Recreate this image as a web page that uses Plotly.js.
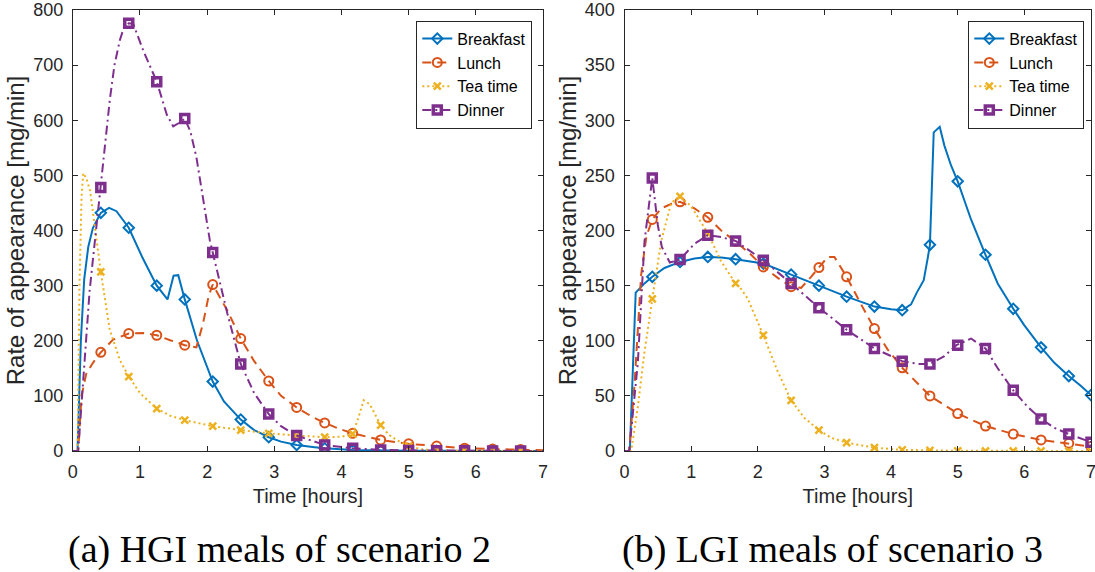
<!DOCTYPE html>
<html><head><meta charset="utf-8">
<script src="https://cdn.plot.ly/plotly-3.0.1.min.js"></script>
<style>html,body{margin:0;padding:0;background:#fff}#chart{width:1095px;height:572px}</style>
</head><body><div id="chart"></div>
<script>
// ---------- DATA ----------
const seriesNames = ['Breakfast', 'Lunch', 'Tea time', 'Dinner'];
const xTicks = [0, 1, 2, 3, 4, 5, 6, 7];
const captionA = '(a) HGI meals of scenario 2';
const captionB = '(b) LGI meals of scenario 3';

const markerTimesA = [0.417, 0.833, 1.25, 1.667, 2.083, 2.5, 2.917, 3.333, 3.75, 4.167, 4.583, 5.0, 5.417, 5.833, 6.25, 6.667];
const markerTimesB = [0.417, 0.833, 1.25, 1.667, 2.083, 2.5, 2.917, 3.333, 3.75, 4.167, 4.583, 5.0, 5.417, 5.833, 6.25, 6.667, 7.0];

// (a) HGI, scenario 2
const hgiBreakfastT = [0, 0.07, 0.12, 0.17, 0.23, 0.3, 0.417, 0.54, 0.65, 0.833, 1.04, 1.25, 1.41, 1.5, 1.57, 1.667, 1.85, 2.083, 2.25, 2.5, 2.7, 2.917, 3.1, 3.333, 3.6, 3.75, 4.167, 4.583, 5, 5.5, 6, 6.5, 7];
const hgiBreakfastV = [0, 0, 200, 312, 370, 405, 432, 441, 435, 405, 350, 300, 275, 318, 319, 275, 200, 126, 90, 57, 38, 25, 17, 11, 7, 5, 2, 1, 0.5, 0.3, 0.2, 0.1, 0];
const hgiBreakfastM = [432, 405, 300, 275, 126, 57, 25, 11, 5, 2, 1, 0.5, 0.3, 0.2, 0.1, 0.1];

const hgiLunchT = [0, 0.08, 0.13, 0.2, 0.3, 0.417, 0.6, 0.833, 1.05, 1.25, 1.45, 1.667, 1.84, 1.94, 2.02, 2.083, 2.3, 2.5, 2.7, 2.917, 3.1, 3.333, 3.55, 3.75, 3.95, 4.167, 4.583, 5, 5.417, 5.833, 6.25, 6.667, 7];
const hgiLunchV = [0, 0, 100, 140, 160, 179, 202, 213, 214, 210, 201, 192, 188, 232, 280, 302, 255, 204, 163, 127, 100, 79, 63, 51, 41, 32, 20, 13, 9, 5, 3.5, 2.5, 1.5];
const hgiLunchM = [179, 213, 210, 192, 302, 204, 127, 79, 51, 32, 20, 13, 9, 5, 3.5, 2.5];

const hgiTeaT = [0, 0.07, 0.1, 0.13, 0.156, 0.2, 0.256, 0.33, 0.417, 0.55, 0.7, 0.833, 1.0, 1.25, 1.45, 1.667, 2.083, 2.5, 2.917, 3.333, 3.75, 4.0, 4.167, 4.25, 4.33, 4.42, 4.583, 4.7, 4.82, 5.0, 5.2, 5.417, 6, 7];
const hgiTeaV = [0, 0, 300, 460, 504, 495, 473, 400, 325, 220, 165, 135, 105, 77, 64, 56, 45, 38, 32, 28, 25, 26, 31, 60, 92, 85, 47, 30, 20, 9, 3, 1, 0, 0];
const hgiTeaM = [325, 135, 77, 56, 45, 38, 32, 28, 25, 31, 47, 9, 1, 0, 0, 0];

const hgiDinnerT = [0, 0.08, 0.25, 0.417, 0.55, 0.62, 0.7, 0.76, 0.833, 0.9, 1.05, 1.25, 1.4, 1.495, 1.58, 1.667, 1.75, 1.84, 1.95, 2.04, 2.083, 2.3, 2.5, 2.7, 2.917, 3.1, 3.333, 3.75, 4.167, 4.583, 5, 5.5, 6, 7];
const hgiDinnerV = [0, 0, 290, 478, 636, 700, 745, 768, 776, 775, 726, 670, 610, 589, 595, 603, 580, 533, 450, 382, 360, 250, 158, 105, 67, 45, 28, 11, 5, 2, 1, 0.5, 0.2, 0];
const hgiDinnerM = [478, 776, 670, 603, 360, 158, 67, 28, 11, 5, 2, 1, 0.5, 0.3, 0.2, 0.1];

// (b) LGI, scenario 3
const lgiBreakfastT = [0, 0.08, 0.168, 0.3, 0.417, 0.6, 0.833, 1.05, 1.25, 1.45, 1.667, 2.083, 2.5, 2.917, 3.333, 3.75, 4.0, 4.167, 4.3, 4.38, 4.49, 4.55, 4.583, 4.64, 4.73, 4.8, 4.9, 5.0, 5.2, 5.417, 5.6, 5.833, 6.0, 6.25, 6.45, 6.667, 6.85, 7];
const lgiBreakfastV = [0, 0, 143.7, 152, 158, 166, 171.5, 174.5, 176, 175.5, 174, 170, 160, 150, 140, 131, 128.5, 127.7, 133, 143, 155, 175, 187, 289, 294, 277, 259, 244.6, 210, 178, 152, 129, 114, 94, 80, 68, 59, 50.7];
const lgiBreakfastM = [158, 171.5, 176, 174, 170, 160, 150, 140, 131, 127.7, 187, 244.6, 178, 129, 94, 68, 50.7];

const lgiLunchT = [0, 0.07, 0.15, 0.25, 0.33, 0.417, 0.55, 0.7, 0.833, 1.05, 1.25, 1.45, 1.667, 1.9, 2.083, 2.3, 2.5, 2.65, 2.8, 2.917, 3.05, 3.15, 3.333, 3.55, 3.75, 3.95, 4.167, 4.583, 5, 5.417, 5.833, 6.25, 6.667, 7];
const lgiLunchV = [0, 0, 60, 160, 195, 210, 220, 224, 226, 220, 212, 200, 190, 178, 167, 157, 149, 148, 158, 166.4, 176, 176, 158, 133, 111, 92, 75.5, 50, 34, 22.6, 15.4, 10, 7, 4];
const lgiLunchM = [210, 226, 212, 190, 167, 149, 166.4, 158, 111, 75.5, 50, 34, 22.6, 15.4, 10, 7, 4];

const lgiTeaT = [0, 0.1, 0.2, 0.3, 0.417, 0.55, 0.7, 0.833, 1.0, 1.1, 1.25, 1.45, 1.667, 1.75, 1.85, 2.083, 2.3, 2.5, 2.7, 2.917, 3.1, 3.333, 3.75, 4.167, 4.583, 5, 7];
const lgiTeaV = [0, 0, 40, 90, 138, 190, 225, 231, 222, 212, 197.5, 172, 152, 147, 138, 105, 72, 46, 30, 19, 12, 7.5, 3, 1, 0.5, 0.2, 0];
const lgiTeaM = [138, 231, 197.5, 152, 105, 46, 19, 7.5, 3, 1, 0.5, 0.2, 0, 0, 0, 0, 0];

const lgiDinnerT = [0, 0.07, 0.2, 0.3, 0.417, 0.5, 0.56, 0.68, 0.833, 1.05, 1.25, 1.45, 1.667, 2.083, 2.5, 2.917, 3.333, 3.75, 4.167, 4.4, 4.583, 4.8, 4.98, 5.2, 5.417, 5.6, 5.833, 6.05, 6.25, 6.45, 6.667, 7];
const lgiDinnerV = [0, 0, 80, 190, 247.6, 205, 185, 171, 173.6, 188, 195.7, 194, 190.5, 173, 152, 130, 110, 93, 81.5, 79, 79, 86, 96, 102, 93, 75, 55, 40, 29, 21, 15.4, 8];
const lgiDinnerM = [247.6, 173.6, 195.7, 190.5, 173, 152, 130, 110, 93, 81.5, 79, 96, 93, 55, 29, 15.4, 8];

// ---------- STYLE ----------
const styles = {
  'Breakfast': {color: '#0072BD', dash: 'solid', symbol: 'diamond-open', msize: 8, mwidth: 2},
  'Lunch':     {color: '#D95319', dash: '9px,6px', symbol: 'circle-open', msize: 9, mwidth: 2},
  'Tea time':  {color: '#EDB120', dash: '2px,3px', symbol: 'x-thin-open', msize: 7, mwidth: 2.5},
  'Dinner':    {color: '#7E2F8E', dash: '9px,4px,2px,4px', symbol: 'square-open', msize: 8, mwidth: 3.5}
};
const FONT = 'Liberation Sans, Arial, Helvetica, sans-serif';
const AX = '#262626';

const panels = [
  {xa: 'x', ya: 'y', legend: 'legend', mt: markerTimesA, series: [
    [hgiBreakfastT, hgiBreakfastV, hgiBreakfastM], [hgiLunchT, hgiLunchV, hgiLunchM],
    [hgiTeaT, hgiTeaV, hgiTeaM], [hgiDinnerT, hgiDinnerV, hgiDinnerM]]},
  {xa: 'x2', ya: 'y2', legend: 'legend2', mt: markerTimesB, series: [
    [lgiBreakfastT, lgiBreakfastV, lgiBreakfastM], [lgiLunchT, lgiLunchV, lgiLunchM],
    [lgiTeaT, lgiTeaV, lgiTeaM], [lgiDinnerT, lgiDinnerV, lgiDinnerM]]}
];

const traces = [];
panels.forEach(p => {
  p.series.forEach((s, i) => {
    const st = styles[seriesNames[i]];
    traces.push({x: s[0], y: s[1], xaxis: p.xa, yaxis: p.ya, mode: 'lines', type: 'scatter',
      line: {color: st.color, width: 2, dash: st.dash}, showlegend: false, hoverinfo: 'skip'});
    traces.push({x: p.mt, y: s[2], xaxis: p.xa, yaxis: p.ya, mode: 'markers', type: 'scatter',
      marker: {symbol: st.symbol, size: st.msize, color: st.color, line: {color: st.color, width: st.mwidth}},
      showlegend: false, hoverinfo: 'skip'});
  });
  p.series.forEach((s, i) => {
    const st = styles[seriesNames[i]];
    traces.push({x: [null], y: [null], xaxis: p.xa, yaxis: p.ya, mode: 'lines+markers', type: 'scatter',
      name: seriesNames[i], legend: p.legend,
      line: {color: st.color, width: 2, dash: st.dash},
      marker: {symbol: st.symbol, size: st.msize, color: st.color, line: {color: st.color, width: st.mwidth}}});
  });
});

function xaxis(domain, anchor) {
  return {domain: domain, anchor: anchor, range: [0, 7], tickvals: xTicks, ticks: 'inside', ticklen: 5,
    tickcolor: AX, tickwidth: 1, showline: true, linecolor: AX, linewidth: 1, mirror: 'ticks',
    showgrid: false, zeroline: false, ticklabelstandoff: 4, ticklabeloverflow: 'allow',
    tickfont: {family: FONT, size: 18, color: AX},
    title: {text: 'Time [hours]', font: {family: FONT, size: 20, color: AX}, standoff: 8}};
}
function yaxis(range, dtick, anchor) {
  return {domain: [0, 1], anchor: anchor, range: range, dtick: dtick, ticks: 'inside', ticklen: 5,
    tickcolor: AX, tickwidth: 1, showline: true, linecolor: AX, linewidth: 1, mirror: 'ticks',
    showgrid: false, zeroline: false, ticklabelstandoff: 5,
    tickfont: {family: FONT, size: 18, color: AX},
    title: {text: 'Rate of appearance [mg/min]', font: {family: FONT, size: 24, color: AX}, standoff: 1}};
}
const legendBase = {bgcolor: '#fff', bordercolor: AX, borderwidth: 1, xanchor: 'right', yanchor: 'top',
  font: {family: FONT, size: 16, color: '#000'}, itemwidth: 30, tracegroupgap: 0};

const layout = {
  width: 1095, height: 572, margin: {l: 0, r: 0, t: 10, b: 121},
  paper_bgcolor: '#fff', plot_bgcolor: '#fff',
  xaxis: xaxis([72.8 / 1095, 543 / 1095], 'y'),
  yaxis: yaxis([0, 800], 100, 'x'),
  xaxis2: xaxis([624.5 / 1095, 1091 / 1095], 'y2'),
  yaxis2: yaxis([0, 400], 50, 'x2'),
  legend: Object.assign({}, legendBase, {x: 532.3 / 1095, y: (451 - 20.7) / 441}),
  legend2: Object.assign({}, legendBase, {x: 1084.3 / 1095, y: (451 - 20.7) / 441}),
  showlegend: true,
  annotations: [
    {text: captionA, xref: 'paper', yref: 'paper', x: 279 / 1095, y: (451 - 549) / 441, xanchor: 'center', yanchor: 'middle',
     showarrow: false, font: {family: 'Liberation Serif, Times New Roman, serif', size: 38, color: '#000'}},
    {text: captionB, xref: 'paper', yref: 'paper', x: 832 / 1095, y: (451 - 549) / 441, xanchor: 'center', yanchor: 'middle',
     showarrow: false, font: {family: 'Liberation Serif, Times New Roman, serif', size: 38, color: '#000'}}
  ]
};

Plotly.newPlot('chart', traces, layout, {displayModeBar: false, staticPlot: true});
</script>
</body></html>
